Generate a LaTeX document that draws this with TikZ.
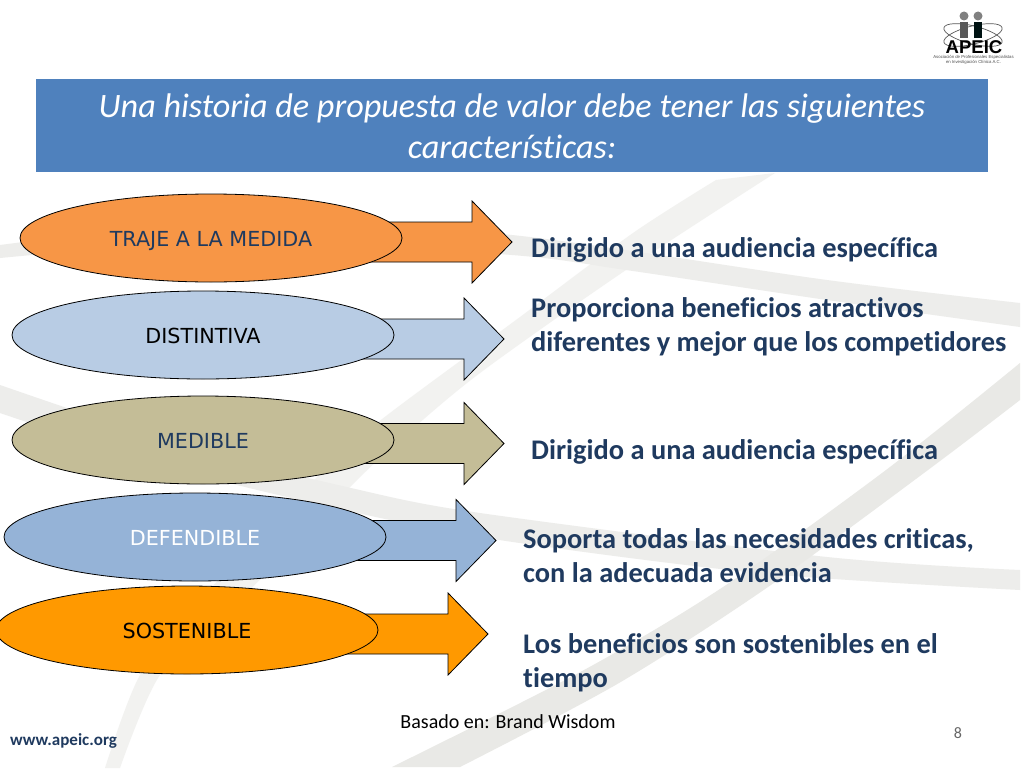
\documentclass[tikz,border=0pt]{standalone}
\usepackage{fontspec}
\setmainfont[Ligatures=CommonOff]{Carlito}
\newfontfamily\verd{DejaVu Sans}
\newfontfamily\logof{Liberation Sans}
\usetikzlibrary{shapes.geometric}
\definecolor{navy}{HTML}{1F3A5F}
\definecolor{swooshA}{HTML}{E9E9E6}
\definecolor{swooshB}{HTML}{EDEDEB}
\definecolor{swooshC}{HTML}{F2F2F0}
\definecolor{barblue}{HTML}{4F81BD}
\definecolor{orangeA}{HTML}{F79646}
\definecolor{blueA}{HTML}{B8CCE4}
\definecolor{khakiA}{HTML}{C4BD97}
\definecolor{blueB}{HTML}{95B3D7}
\definecolor{orangeB}{HTML}{FF9900}
\tikzset{
 oval/.style={ellipse,draw=black,line width=0.8pt,minimum width=382pt,minimum height=88pt,inner sep=0pt,text height=17pt,text depth=0pt,font=\verd\fontsize{20.7}{24}\selectfont},
 say/.style={font=\bfseries\fontsize{28.4}{34}\selectfont,text=navy,align=left,anchor=west,inner sep=0pt},
 arrowshape/.style={draw=black,line width=0.8pt}
}
\newcommand{\arrowat}[3]{%
 \draw[arrowshape,fill=#3] (#1-200,#2-20) -- (#1-40,#2-20) -- (#1-40,#2-41) -- (#1,#2) -- (#1-40,#2+41) -- (#1-40,#2+20) -- (#1-200,#2+20) -- cycle;}
\begin{document}
\begin{tikzpicture}[x=1pt,y=-1pt]
\useasboundingbox (0,0) rectangle (1024,768);
\fill[white] (0,0) rectangle (1024,768);
% background swooshes
\fill[swooshC] plot[smooth] coordinates {(716,180) (633,233) (520,317) (377,423) (314,480) (200,600) (140,675) (105,768)} -- plot[smooth] coordinates {(120,768) (160,675) (230,610) (347,490) (400,440) (480,373) (626,270) (775,173)} -- cycle;
\fill[swooshB] plot[smooth] coordinates {(0,245) (250,220) (512,235) (827,280) (1020,303)} -- plot[smooth] coordinates {(1020,327) (827,300) (626,270) (512,255) (250,240) (0,258)} -- cycle;
\fill[swooshB] plot[smooth] coordinates {(0,385) (180,445) (351,488) (480,513) (827,557) (1020,570)} -- plot[smooth] coordinates {(1020,590) (758,573) (480,537) (300,500) (150,462) (0,413)} -- cycle;
\fill[swooshA] plot[smooth] coordinates {(1020,363) (886,470) (723,587) (584,670) (392,767)} -- plot[smooth] coordinates {(460,767) (619,683) (768,587) (928,470) (1020,400)} -- cycle;
% title
\node (bar) at (512,125.5) [fill=barblue,minimum width=952pt,minimum height=93pt,inner sep=0pt] {};
\node[text=white,align=center,font=\itshape\fontsize{34.2}{41}\selectfont] (title) at (512,126) {Una historia de propuesta de valor debe tener las siguientes\\características:};
% arrows
\arrowat{512}{242}{orangeA}
\arrowat{504}{339}{blueA}
\arrowat{504}{443.5}{khakiA}
\arrowat{496}{540.5}{blueB}
\arrowat{488}{634}{orangeB}
% ovals
\node[oval,fill=orangeA,text=navy] (o1) at (211,238) {TRAJE A LA MEDIDA};
\node[oval,fill=blueA,text=black] (o2) at (203,335) {DISTINTIVA};
\node[oval,fill=khakiA,text=navy] (o3) at (203,440) {MEDIBLE};
\node[oval,fill=blueB,text=white] (o4) at (195,537) {DEFENDIBLE};
\node[oval,fill=orangeB,text=black] (o5) at (187,630) {SOSTENIBLE};
% descriptions
\node[say] (d1) at (531,250) {Dirigido a una audiencia específica};
\node[say] (d2) at (531,327) {Proporciona beneficios atractivos\\diferentes y mejor que los competidores};
\node[say] (d3) at (531,452) {Dirigido a una audiencia específica};
\node[say] (d4) at (523,556) {Soporta todas las necesidades criticas,\\con la adecuada evidencia};
\node[say] (d5) at (523,663) {Los beneficios son sostenibles en el\\tiempo};
% footer
\node[font=\fontsize{20}{24}\selectfont,text=black] (src) at (508,722) {Basado en: Brand Wisdom};
\node[font=\bfseries\fontsize{17}{20}\selectfont,text=navy,anchor=west,inner sep=0pt] (web) at (10,741) {www.apeic.org};
\node[font=\fontsize{16}{20}\selectfont,text=black!60] (num) at (958,733) {8};
% logo
\draw[black!65,line width=0.7pt,rotate around={14:(973,35)}] (973,35) ellipse (30 and 9);
\draw[black!65,line width=0.7pt,rotate around={-14:(973,35)}] (973,35) ellipse (30 and 9);
\fill[black!50] (964,16) circle (4.5);
\fill[black!50] (978,16) circle (4.5);
\fill[black!65] (960,22) rectangle (968,38);
\fill[black!85!teal] (974,22) rectangle (982,38);
\node[font=\logof\bfseries\fontsize{18.5}{18}\selectfont,text=black,inner sep=0pt] (logo) at (974,47) {APEIC};
\node[font=\logof\fontsize{4.3}{5}\selectfont,text=black!70,align=center,inner sep=0pt] (logosub) at (973.5,60) {Asociación de Profesionales Especialistas\\en Investigación Clínica A.C.};
\end{tikzpicture}
\end{document}
